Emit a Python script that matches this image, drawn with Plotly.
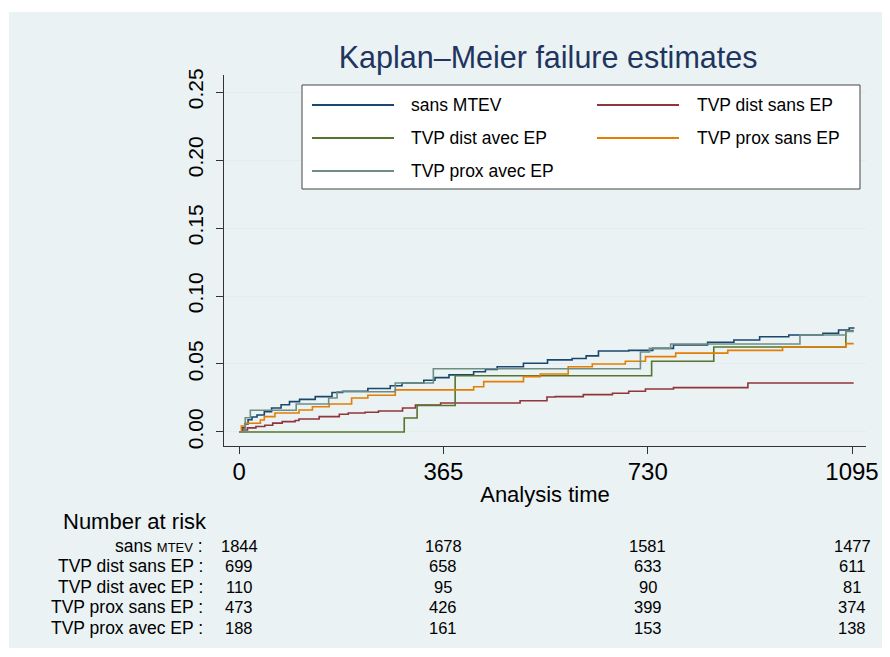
import plotly.graph_objects as go

# ---------------- data ----------------
series_names = ["sans MTEV", "TVP dist sans EP", "TVP dist avec EP",
                "TVP prox sans EP", "TVP prox avec EP"]
series_colors = ["#1a476f", "#90353b", "#55752f", "#e37e00", "#6e8e84"]

t_sans_mtev = [0, 5, 11, 16, 23, 32, 45, 58, 75, 90, 108, 136, 166, 185, 230, 270, 291,
               330, 350, 375, 419, 440, 461, 508, 551, 595, 620, 642, 696, 739, 776,
               837, 884, 930, 982, 1043, 1071, 1090, 1098]
f_sans_mtev = [0, 0.003, 0.006, 0.009, 0.011, 0.0125, 0.015, 0.0176, 0.020, 0.0223, 0.024,
               0.026, 0.029, 0.030, 0.032, 0.034, 0.036, 0.038, 0.040, 0.042, 0.0443,
               0.046, 0.048, 0.0505, 0.053, 0.054, 0.056, 0.0596, 0.060, 0.0615, 0.064,
               0.066, 0.0676, 0.0700, 0.0713, 0.0726, 0.075, 0.0765, 0.077]

t_dist_sans = [0, 5, 15, 30, 46, 60, 77, 100, 107, 143, 179, 195, 225, 249, 292, 315, 360,
               502, 550, 565, 615, 667, 696, 726, 776, 909, 1098]
f_dist_sans = [0, 0.0015, 0.003, 0.004, 0.005, 0.0065, 0.0076, 0.0085, 0.0095, 0.0113,
               0.013, 0.014, 0.0145, 0.0154, 0.0176, 0.0199, 0.0213, 0.023, 0.0257, 0.026,
               0.0275, 0.0285, 0.030, 0.0316, 0.0326, 0.036, 0.036]

t_dist_avec = [0, 295, 318, 386, 737, 848, 1084, 1098]
f_dist_avec = [0, 0.0103, 0.0195, 0.0414, 0.052, 0.0625, 0.0745, 0.0745]

t_prox_sans = [0, 4, 10, 38, 45, 64, 107, 131, 161, 201, 230, 279, 419, 437, 508, 538,
               588, 631, 690, 726, 780, 873, 971, 1084, 1098]
f_prox_sans = [0, 0.0044, 0.0064, 0.0088, 0.0113, 0.014, 0.0162, 0.0186, 0.0206, 0.025,
               0.027, 0.031, 0.0333, 0.037, 0.0407, 0.0426, 0.048, 0.050, 0.052, 0.0554,
               0.058, 0.060, 0.0627, 0.065, 0.065]

t_prox_avec = [0, 11, 20, 102, 160, 175, 279, 347, 717, 733, 771, 1002, 1084, 1098]
f_prox_avec = [0, 0.0105, 0.016, 0.0206, 0.025, 0.0296, 0.036, 0.0465, 0.0588, 0.0615,
               0.0647, 0.0713, 0.074, 0.074]

x_ticks = [0, 365, 730, 1095]
y_ticks = [0, 0.05, 0.10, 0.15, 0.20, 0.25]
y_ticklabels = ["0.00", "0.05", "0.10", "0.15", "0.20", "0.25"]

risk_times = [0, 365, 730, 1095]
risk_labels = ['sans <span style="font-size:13px">MTEV</span> :', "TVP dist sans EP :",
               "TVP dist avec EP :", "TVP prox sans EP :", "TVP prox avec EP :"]
risk_sans_mtev = [1844, 1678, 1581, 1477]
risk_dist_sans = [699, 658, 633, 611]
risk_dist_avec = [110, 95, 90, 81]
risk_prox_sans = [473, 426, 399, 374]
risk_prox_avec = [188, 161, 153, 138]

# ---------------- figure ----------------
FONT = "Liberation Sans, Arial, Helvetica, sans-serif"
PANEL = "#eaf2f3"

times = [t_sans_mtev, t_dist_sans, t_dist_avec, t_prox_sans, t_prox_avec]
vals = [f_sans_mtev, f_dist_sans, f_dist_avec, f_prox_sans, f_prox_avec]
risks = [risk_sans_mtev, risk_dist_sans, risk_dist_avec, risk_prox_sans, risk_prox_avec]

fig = go.Figure()
for name, col, t, v in zip(series_names, series_colors, times, vals):
    fig.add_trace(go.Scatter(x=t, y=v, mode="lines", name=name,
                             line=dict(color=col, width=1.6, shape="hv"),
                             showlegend=False))

# page has an 8px body margin; work in screen pixels, convert to figure pixels
OFF = 8
FW, FH = 890 - OFF, 657 - OFF
L, R, T, B = 224, 866, 75, 446          # plot area in screen pixels
W, H = R - L, B - T
def px(xp):
    return (xp - L) / W
def py(yp):
    return (B - yp) / H

shapes = []
annotations = []

# background panel with thin white border
shapes.append(dict(type="rect", xref="paper", yref="paper",
                   x0=px(9), x1=px(892), y0=py(648), y1=py(12),
                   fillcolor=PANEL, line=dict(width=0), layer="below"))

# custom legend
shapes.append(dict(type="rect", xref="paper", yref="paper",
                   x0=px(302), x1=px(860), y0=py(189), y1=py(85),
                   fillcolor="white", line=dict(color="#444444", width=1)))
leg_pos = [(312, 394, 409, 105), (597, 679, 695, 105),
           (312, 394, 409, 138), (597, 679, 695, 138),
           (312, 394, 409, 171)]
for name, col, (lx0, lx1, tx, ly) in zip(series_names, series_colors, leg_pos):
    shapes.append(dict(type="line", xref="paper", yref="paper",
                       x0=px(lx0), x1=px(lx1), y0=py(ly), y1=py(ly),
                       line=dict(color=col, width=2)))
    annotations.append(dict(xref="paper", yref="paper", x=px(tx), y=py(ly),
                            text=name, showarrow=False, xanchor="left", yanchor="middle",
                            font=dict(size=17.5, color="black", family=FONT)))

# number at risk table
annotations.append(dict(xref="paper", yref="paper", x=px(62), y=py(521),
                        text="Number at risk", showarrow=False, xanchor="left",
                        yanchor="middle", borderpad=0,
                        font=dict(size=22, color="black", family=FONT)))
row_y = [546, 566, 587, 607, 628]
for lab, rk, ry in zip(risk_labels, risks, row_y):
    annotations.append(dict(xref="paper", yref="paper", x=px(204), y=py(ry),
                            text=lab, showarrow=False, xanchor="right", yanchor="middle",
                            borderpad=0,
                            font=dict(size=17.5, color="black", family=FONT)))
    for tt, n in zip(risk_times, rk):
        annotations.append(dict(xref="x", yref="paper", x=tt, y=py(ry),
                                text=str(n), showarrow=False, xanchor="center",
                                yanchor="middle", borderpad=0,
                                font=dict(size=16.5, color="black", family=FONT)))

fig.update_layout(
    width=FW, height=FH,
    margin=dict(l=L - OFF, r=890 - R, t=T - OFF, b=657 - B),
    paper_bgcolor="white",
    plot_bgcolor="white",
    font=dict(family=FONT, color="black"),
    title=dict(text="Kaplan\u2013Meier failure estimates", x=(L + R) / 2 / 890,
               xanchor="center", y=1 - (57 - OFF) / FH, yanchor="middle",
               font=dict(size=30.5, color="#1f3560", family=FONT)),
    shapes=shapes,
    annotations=annotations,
    xaxis=dict(range=[-27, 1120], tickvals=x_ticks, ticktext=[str(v) for v in x_ticks],
               showgrid=False, zeroline=False, showline=True, linecolor="#333333",
               linewidth=1, ticks="outside", ticklen=7, tickcolor="#333333",
               ticklabelstandoff=-3,
               tickfont=dict(size=24, color="black"),
               title=dict(text="Analysis time", font=dict(size=22, color="black"),
                          standoff=2)),
    yaxis=dict(range=[-0.0103, 0.2625], tickvals=y_ticks, ticktext=y_ticklabels,
               tickangle=-90, showgrid=True, gridcolor="#e4eced", gridwidth=1,
               zeroline=False, showline=True, linecolor="#333333", linewidth=1,
               ticks="outside", ticklen=7, tickcolor="#333333", ticklabelstandoff=5,
               tickfont=dict(size=21, color="black")),
)

fig.write_html("out.html")
